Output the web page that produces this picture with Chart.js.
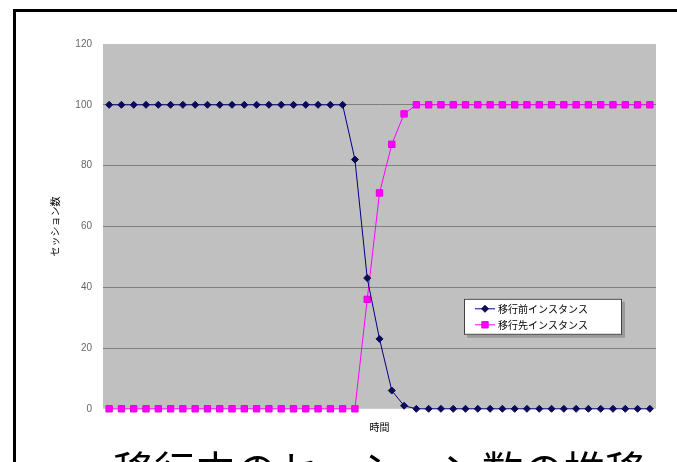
<!DOCTYPE html>
<html lang="ja">
<head>
<meta charset="utf-8">
<script src="https://cdn.jsdelivr.net/npm/chart.js@4/dist/chart.umd.min.js"></script>
<style>
  html, body { margin: 0; padding: 0; background: #fff; overflow: hidden; }
  #wrap { position: relative; width: 677px; height: 462px; overflow: hidden; }
  #frame { position: absolute; left: 13px; top: 9px; width: 720px; height: 520px;
           border-top: 3px solid #000; border-left: 3px solid #000; pointer-events: none; }
  #chart { position: absolute; left: 0; top: 0; }
</style>
</head>
<body>
<div id="wrap">
  <canvas id="chart" width="677" height="495"></canvas>
  <div id="frame"></div>
</div>
<script>
// Time steps (unlabelled on the axis)
const timeSteps = ['1','2','3','4','5','6','7','8','9','10','11','12','13','14','15',
  '16','17','18','19','20','21','22','23','24','25','26','27','28','29','30',
  '31','32','33','34','35','36','37','38','39','40','41','42','43','44','45'];

// Sessions on the source instance
const sourceSessions = [100,100,100,100,100,100,100,100,100,100,
  100,100,100,100,100,100,100,100,100,100,
  82,43,23,6,1,0,0,0,0,0,
  0,0,0,0,0,0,0,0,0,0,
  0,0,0,0,0];

// Sessions on the destination instance
const targetSessions = [0,0,0,0,0,0,0,0,0,0,
  0,0,0,0,0,0,0,0,0,0,
  0,36,71,87,97,100,100,100,100,100,
  100,100,100,100,100,100,100,100,100,100,
  100,100,100,100,100];

const seriesNames = ['移行前インスタンス', '移行先インスタンス'];
const yTicks = [0, 20, 40, 60, 80, 100, 120];

const jpFont = '"Noto Sans CJK JP", "Noto Sans", sans-serif';

// Grey plot-area fill
const plotBackground = {
  id: 'plotBackground',
  beforeDraw(chart) {
    const { ctx, chartArea: a } = chart;
    ctx.save();
    ctx.fillStyle = '#c0c0c0';
    ctx.fillRect(a.left, a.top, a.right - a.left, a.bottom - a.top);
    ctx.restore();
  }
};

// Boxed legend sitting inside the plot area, lower right
const insetLegend = {
  id: 'insetLegend',
  afterDraw(chart) {
    const { ctx, chartArea: a } = chart;
    const w = 158, h = 36;
    const x = a.right - 34 - w, y = a.bottom - 74 - h;
    ctx.save();
    ctx.fillStyle = '#9a9a9a';
    ctx.fillRect(x + 3, y + 3, w, h);
    ctx.fillStyle = '#ffffff';
    ctx.fillRect(x, y, w, h);
    ctx.strokeStyle = '#404040';
    ctx.lineWidth = 1;
    ctx.strokeRect(x + 0.5, y + 0.5, w - 1, h - 1);
    chart.data.datasets.forEach((ds, i) => {
      const cy = y + 10 + i * 16;
      ctx.strokeStyle = ds.borderColor;
      ctx.lineWidth = 1;
      ctx.beginPath();
      ctx.moveTo(x + 11, cy);
      ctx.lineTo(x + 31, cy);
      ctx.stroke();
      ctx.fillStyle = ds.pointBackgroundColor;
      ctx.strokeStyle = ds.pointBorderColor;
      Chart.helpers.drawPoint(ctx, {
        pointStyle: ds.pointStyle, radius: ds.pointRadius, borderWidth: 1
      }, x + 21, cy);
      ctx.fillStyle = '#000';
      ctx.font = '10px ' + jpFont;
      ctx.textBaseline = 'middle';
      ctx.textAlign = 'left';
      ctx.fillText(ds.label, x + 34, cy);
    });
    ctx.restore();
  }
};

new Chart(document.getElementById('chart'), {
  type: 'line',
  data: {
    labels: timeSteps,
    datasets: [
      {
        label: seriesNames[0],
        data: sourceSessions,
        borderColor: '#000080',
        backgroundColor: '#000080',
        pointBackgroundColor: '#0a0a5a',
        pointBorderColor: '#0a0a5a',
        pointStyle: 'rectRot',
        pointRadius: 3.5,
        borderWidth: 1,
        tension: 0,
        clip: false
      },
      {
        label: seriesNames[1],
        data: targetSessions,
        borderColor: '#ff00ff',
        backgroundColor: '#ff00ff',
        pointBackgroundColor: '#ff00ff',
        pointBorderColor: '#e000e0',
        pointStyle: 'rect',
        pointRadius: 4.5,
        borderWidth: 1,
        tension: 0,
        clip: false
      }
    ]
  },
  options: {
    responsive: false,
    animation: false,
    events: [],
    layout: { padding: { left: 43, right: 21, top: 44, bottom: 0 } },
    plugins: {
      legend: { display: false },
      tooltip: { enabled: false },
      title: {
        display: true,
        position: 'bottom',
        fullSize: false,
        text: '移行中のセッション数の推移',
        color: '#000',
        font: { family: jpFont, size: 41, weight: 'normal', lineHeight: 1.2 },
        padding: { top: 9, bottom: 0 }
      }
    },
    scales: {
      x: {
        offset: true,
        grid: { display: false, drawTicks: false },
        border: { display: false },
        ticks: { display: false },
        title: {
          display: true,
          text: '時間',
          color: '#000',
          font: { family: jpFont, size: 10, lineHeight: 1.2 },
          padding: { top: 0, bottom: 4 }
        },
        afterFit(s) { s.height = 28; }
      },
      y: {
        min: 0,
        max: 120,
        afterBuildTicks(s) { s.ticks = yTicks.map(v => ({ value: v })); },
        grid: {
          drawTicks: false,
          color: (c) => (c.tick && (c.tick.value === 0 || c.tick.value === 120)) ? 'rgba(0,0,0,0)' : '#7f7f7f',
          lineWidth: 1
        },
        border: { display: false },
        ticks: {
          padding: 11,
          color: '#666',
          font: { family: '"Liberation Sans", Arial, sans-serif', size: 10 }
        },
        title: {
          display: true,
          text: 'セッション数',
          color: '#000',
          font: { family: jpFont, size: 10, lineHeight: 1.2 },
          padding: { top: 6, bottom: 0 }
        },
        afterFit(s) { s.width = 60; }
      }
    }
  },
  plugins: [plotBackground, insetLegend]
});
</script>
</body>
</html>
